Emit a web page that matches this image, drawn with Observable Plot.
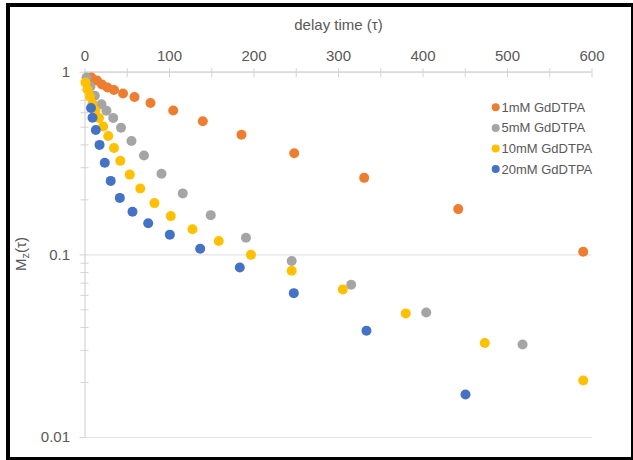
<!DOCTYPE html>
<html>
<head>
<meta charset="utf-8">
<script src="https://cdn.jsdelivr.net/npm/d3@7"></script>
<script src="https://cdn.jsdelivr.net/npm/@observablehq/plot@0.6"></script>
<style>
  html, body { margin: 0; padding: 0; background: #fff; }
  #wrap { position: relative; width: 633px; height: 460px; overflow: hidden; }
  #frame { position: absolute; left: 6px; top: 3px; width: 621px; height: 450px; border: 4px solid #000; pointer-events: none; }
  svg { font-family: "Liberation Sans", Arial, sans-serif; }
</style>
</head>
<body>
<div id="wrap"><div id="frame"></div></div>
<script>
// Series names and marker colours
const series = ["1mM GdDTPA", "5mM GdDTPA", "10mM GdDTPA", "20mM GdDTPA"];
const colors = ["#ED7D31", "#A5A5A5", "#FFC000", "#4472C4"];

// Delay times (τ) and magnetisation Mz(τ) for each concentration
const tau1mM = [7.7, 14.2, 20.1, 26.6, 34.3, 45.0, 58.6, 77.5, 104.4, 139.4, 185.2, 247.6, 330.4, 441.7, 589.6];
const mz1mM  = [0.935, 0.901, 0.856, 0.825, 0.799, 0.765, 0.732, 0.678, 0.617, 0.539, 0.454, 0.360, 0.264, 0.178, 0.104];

const tau5mM = [1.8, 6.5, 11.6, 19.5, 25.4, 33.4, 42.6, 55.0, 69.8, 90.5, 115.7, 148.8, 190.5, 244.6, 315.0, 403.8, 517.8];
const mz5mM  = [0.935, 0.835, 0.743, 0.668, 0.615, 0.562, 0.496, 0.420, 0.350, 0.278, 0.217, 0.165, 0.124, 0.0926, 0.0686, 0.0484, 0.0323];

const tau10mM = [0.6, 3.0, 5.9, 8.9, 12.4, 16.6, 21.5, 27.5, 34.3, 41.8, 53.0, 65.4, 82.2, 101.5, 127.2, 158.3, 196.4, 244.6, 305.1, 379.6, 473.1, 589.6];
const mz10mM  = [0.878, 0.804, 0.736, 0.674, 0.617, 0.562, 0.504, 0.447, 0.385, 0.327, 0.275, 0.231, 0.192, 0.163, 0.138, 0.119, 0.100, 0.0819, 0.0647, 0.0478, 0.0329, 0.0205];

const tau20mM = [7.1, 8.9, 12.8, 17.2, 23.4, 30.4, 41.2, 56.2, 74.8, 100.4, 136.3, 183.2, 247.1, 333.1, 450.3];
const mz20mM  = [0.637, 0.563, 0.483, 0.400, 0.319, 0.254, 0.205, 0.172, 0.149, 0.129, 0.108, 0.0853, 0.0617, 0.0384, 0.0172];

// Axis ticks
const xTickLabels = [0, 100, 200, 300, 400, 500, 600];
const xMinorTicks = [0, 50, 100, 150, 200, 250, 300, 350, 400, 450, 500, 550, 600];
const yTickLabels = [1, 0.1, 0.01];
const yMinorTicks = [2, 3, 4, 5, 6, 7, 8, 9].flatMap(k => [k * 0.01, k * 0.1]);

const columns = [[tau1mM, mz1mM], [tau5mM, mz5mM], [tau10mM, mz10mM], [tau20mM, mz20mM]];
const points = columns.flatMap(([t, m], i) => t.map((tau, j) => ({tau, mz: m[j], series: series[i]})));

const axisGrey = "#d4d4d4";
const textGrey = "#595959";

const chart = Plot.plot({
  width: 633,
  height: 460,
  marginLeft: 84.5,
  marginRight: 41.5,
  marginTop: 71.7,
  marginBottom: 23,
  style: {fontFamily: "'Liberation Sans', Arial, sans-serif", background: "transparent"},
  x: {domain: [0, 600]},
  y: {type: "log", domain: [0.01, 1]},
  color: {domain: series, range: colors},
  marks: [
    Plot.ruleY(yTickLabels, {stroke: "#e3e3e3", strokeWidth: 1.2}),
    Plot.ruleY([1], {stroke: axisGrey, strokeWidth: 1.2}),
    Plot.ruleX([0], {stroke: axisGrey, strokeWidth: 1.2}),
    Plot.axisX(xMinorTicks, {anchor: "top", tickSize: 9, dy: 4.5, text: null, stroke: axisGrey, label: null}),
    Plot.axisX(xTickLabels, {anchor: "top", tickSize: 0, tickPadding: 11, fontSize: 15, fill: textGrey, label: null}),
    Plot.axisY(yMinorTicks, {anchor: "left", tickSize: 8, dx: 4, text: null, stroke: axisGrey, label: null}),
    Plot.axisY(yTickLabels, {anchor: "left", tickSize: 6, dx: 1, tickPadding: 10, fontSize: 15, fill: textGrey,
      stroke: axisGrey, tickFormat: d => String(d), label: null}),
    Plot.dot(points, {x: "tau", y: "mz", fill: "series", r: 5}),
    Plot.text(["delay time (τ)"], {frameAnchor: "top", dy: -53, fontSize: 15, fill: textGrey})
  ]
});

const svg = d3.select(chart);

// y-axis title with subscript z
const ylab = svg.append("text")
  .attr("transform", "translate(26,254) rotate(-90)")
  .attr("text-anchor", "middle")
  .attr("font-size", 15)
  .attr("fill", textGrey);
ylab.append("tspan").text("M");
ylab.append("tspan").attr("font-size", 11).attr("dy", 3).text("z");
ylab.append("tspan").attr("dy", -3).text("(τ)");

// Legend
const legend = svg.append("g")
  .attr("font-size", 13)
  .attr("fill", textGrey)
  .attr("text-anchor", "start");
series.forEach((name, i) => {
  const y = 107.3 + 20.6 * i;
  legend.append("circle").attr("cx", 495.7).attr("cy", y).attr("r", 4).attr("fill", colors[i]);
  legend.append("text").attr("x", 501.5).attr("y", y).attr("dy", "0.35em").attr("text-anchor", "start").text(name);
});

document.getElementById("wrap").prepend(chart);
</script>
</body>
</html>
